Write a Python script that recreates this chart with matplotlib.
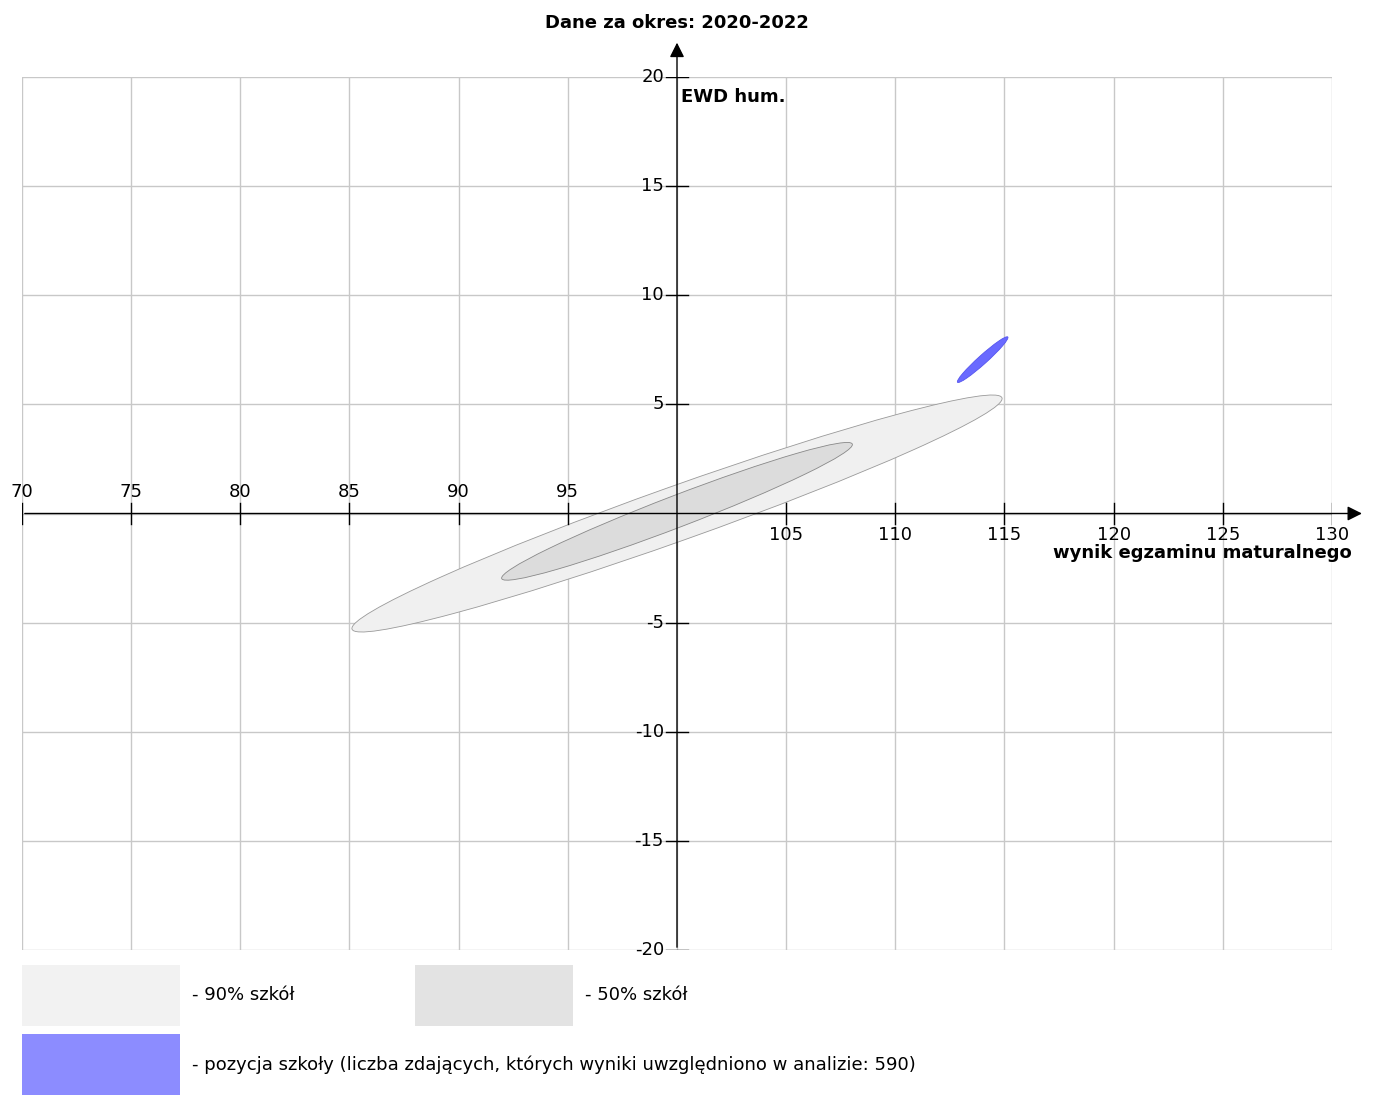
import matplotlib
matplotlib.use('agg')
import matplotlib.pyplot as plt
from matplotlib.patches import Ellipse, Rectangle

# data
x_ticks = [70, 75, 80, 85, 90, 95, 105, 110, 115, 120, 125, 130]
y_ticks = [-20, -15, -10, -5, 5, 10, 15, 20]
ell_90 = dict(xy=(100.0, 0.0), width=31.6, height=2.5, angle=19.6)
ell_50 = dict(xy=(100.0, 0.1), width=17.2, height=1.45, angle=21.0)
ell_school = dict(xy=(114.0, 7.05), width=3.1, height=0.4, angle=42.0)
title = 'Dane za okres: 2020-2022'
n_students = 590

W, H = 1387, 1110
fig = plt.figure(figsize=(W / 100, H / 100), dpi=100)
ax = fig.add_axes([22 / W, 160 / H, 1310 / W, 873 / H])
ax.set_xlim(70, 130)
ax.set_ylim(-20, 20)
ax.axis('off')

# grid + frame
for x in range(70, 131, 5):
    ax.plot([x, x], [-20, 20], color='#c8c8c8', lw=1, zorder=0)
for y in range(-20, 21, 5):
    ax.plot([70, 130], [y, y], color='#c8c8c8', lw=1, zorder=0)

ax.add_patch(Ellipse(**ell_90, facecolor='#f0f0f0', edgecolor='#999999', lw=0.6, zorder=1))
ax.add_patch(Ellipse(**ell_50, facecolor='#dcdcdc', edgecolor='#888888', lw=0.6, zorder=2))
ax.add_patch(Ellipse(**ell_school, facecolor='#6a6aff', edgecolor='#5555ee', lw=0.6, zorder=3))

# axes with arrows
ax.annotate('', xy=(131.5, 0), xytext=(70, 0), annotation_clip=False,
            arrowprops=dict(arrowstyle='-|>', color='black', lw=1, mutation_scale=22), zorder=4)
ax.annotate('', xy=(100, 21.7), xytext=(100, -20), annotation_clip=False,
            arrowprops=dict(arrowstyle='-|>', color='black', lw=1, mutation_scale=22), zorder=4)

for x in x_ticks:
    ax.plot([x, x], [-0.5, 0.5], color='black', lw=1, zorder=4)
    if x < 100:
        ax.text(x, 0.55, str(x), ha='center', va='bottom', fontsize=13)
    else:
        ax.text(x, -0.55, str(x), ha='center', va='top', fontsize=13)
for y in y_ticks:
    ax.plot([99.5, 100.5], [y, y], color='black', lw=1, zorder=4)
    ax.text(99.4, y, str(y), ha='right', va='center', fontsize=13)

ax.text(100.2, 19.5, 'EWD hum.', ha='left', va='top', fontsize=13, fontweight='bold')
ax.text(130.9, -1.4, 'wynik egzaminu maturalnego', ha='right', va='top',
        fontsize=13, fontweight='bold')
fig.text(677 / W, 1 - 23 / H, title, ha='center', va='center', fontsize=13, fontweight='bold')

# legend
def swatch(x0, y0, x1, y1, color, label):
    fig.add_artist(Rectangle((x0 / W, 1 - y1 / H), (x1 - x0) / W, (y1 - y0) / H,
                             transform=fig.transFigure, facecolor=color, edgecolor='none'))
    fig.text((x1 + 12) / W, 1 - (y0 + y1) / 2 / H, label, ha='left', va='center', fontsize=13)

swatch(22, 965, 180, 1026, '#f2f2f2', '- 90% szkół')
swatch(415, 965, 573, 1026, '#e3e3e3', '- 50% szkół')
swatch(22, 1034, 180, 1095, '#8c8cff',
       f'- pozycja szkoły (liczba zdających, których wyniki uwzględniono w analizie: {n_students})')

fig.savefig('out.png', dpi=100)
